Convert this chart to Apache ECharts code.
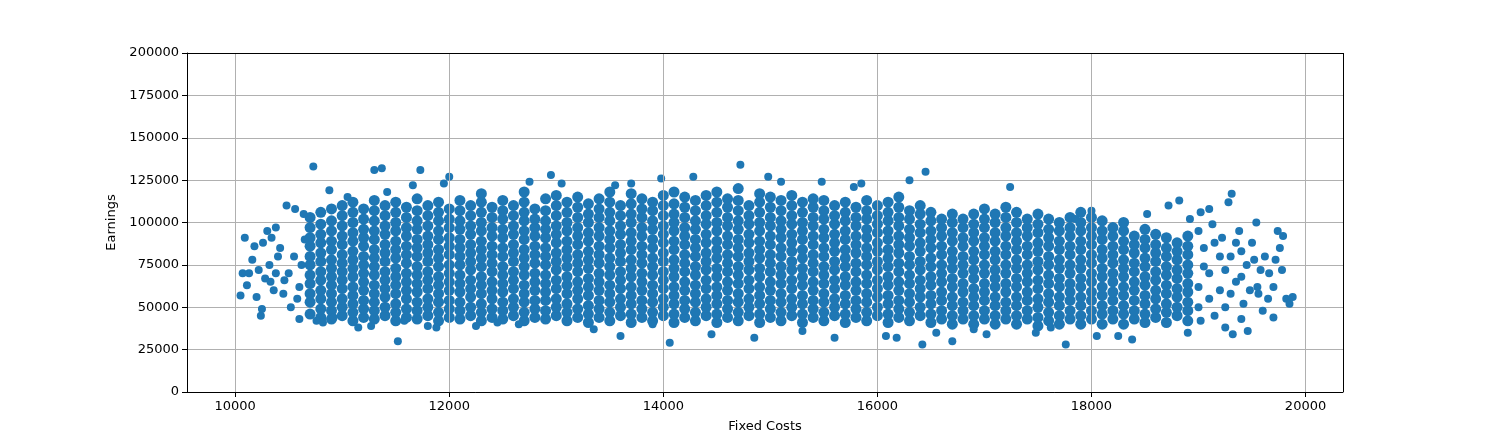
<!DOCTYPE html>
<html>
<head>
<meta charset="utf-8">
<script src="https://cdn.jsdelivr.net/npm/echarts@6/dist/echarts.min.js"></script>
<style>html,body{margin:0;background:#fff}#chart{width:1493px;height:441px}</style>
</head>
<body>
<div id="chart"></div>
<script>
// 密集区：每一列的固定成本 (x) 与该列读出的收益 (千)
const colX = [10700,10800,10900,11000,11100,11200,11300,11400,11500,11600,11700,11800,11900,12000,12100,12200,12300,12400,12500,12600,12700,12800,12900,13000,13100,13200,13300,13400,13500,13600,13700,13800,13900,14000,14100,14200,14300,14400,14500,14600,14700,14800,14900,15000,15100,15200,15300,15400,15500,15600,15700,15800,15900,16000,16100,16200,16300,16400,16500,16600,16700,16800,16900,17000,17100,17200,17300,17400,17500,17600,17700,17800,17900,18000,18100,18200,18300,18400,18500,18600,18700,18800,18900]
const colY = [
  [46,53,58,64,69,75,80,86,91,97,103],
  [44,49,55,60,66,71,77,82,88,93,99,106],
  [43,48,53,58,63,68,73,78,84,89,95,101,108],
  [45,50,55,61,66,71,76,81,87,92,98,104,110],
  [42,47,52,57,62,68,73,78,83,89,94,100,106,112],
  [44,49,54,60,65,70,75,80,86,91,96,102,108],
  [43,48,53,58,63,69,74,79,84,90,95,101,107,113],
  [45,50,56,61,66,71,77,82,87,93,98,104,110],
  [42,47,52,58,63,68,73,79,84,89,95,100,106,112],
  [44,49,55,60,65,70,76,81,86,92,97,103,109],
  [43,48,53,59,64,69,74,80,85,90,96,101,107,114],
  [45,50,55,61,66,71,77,82,87,92,98,104,110],
  [42,47,53,58,63,68,74,79,84,90,95,101,106,112],
  [44,49,54,60,65,70,75,81,86,91,97,102,108],
  [43,48,53,59,64,69,75,80,85,90,96,101,107,113],
  [45,50,56,61,66,72,77,82,87,93,98,104,110],
  [42,47,52,58,63,68,74,79,84,89,95,100,106,112,117],
  [44,49,55,60,65,71,76,81,86,92,97,103,109],
  [43,48,53,59,64,69,74,80,85,91,96,102,107,113],
  [45,50,55,61,66,71,77,82,87,93,98,104,110],
  [42,47,53,58,63,69,74,79,84,90,95,101,106,112,118],
  [44,49,54,60,65,70,76,81,86,92,97,102,108],
  [43,48,54,59,64,69,75,80,85,91,96,101,107,114],
  [45,50,55,61,66,72,77,82,88,93,98,104,110,116],
  [42,47,52,58,63,68,74,79,84,89,95,100,106,112],
  [44,49,55,60,65,71,76,81,87,92,97,103,109,115],
  [41,46,51,57,62,67,73,78,83,89,94,100,105,111],
  [44,49,54,60,65,70,76,81,86,92,97,103,108,114],
  [42,47,53,58,63,69,74,79,85,90,95,101,106,112,118],
  [45,50,55,61,66,71,77,82,87,93,98,104,110],
  [41,46,52,57,62,68,73,78,84,89,94,100,105,111,117],
  [44,49,54,60,65,70,76,81,86,92,97,103,108,114],
  [42,47,53,58,63,69,74,79,85,90,96,101,107,112],
  [45,50,55,61,66,71,77,82,88,93,98,104,110,116],
  [41,46,52,57,62,68,73,78,84,89,95,100,105,111,118],
  [44,49,54,60,65,71,76,81,87,92,97,103,109,115],
  [42,47,53,58,63,69,74,80,85,90,96,101,107,113],
  [45,50,55,61,66,72,77,82,88,93,99,104,110,116],
  [41,46,52,57,62,68,73,79,84,89,95,100,106,112,118],
  [44,49,54,60,65,71,76,81,87,92,98,103,109,114],
  [42,47,53,58,64,69,74,80,85,90,96,101,107,113,120],
  [45,50,55,61,66,72,77,82,88,93,99,104,110],
  [41,46,52,57,62,68,73,79,84,89,95,100,106,112,117],
  [44,49,54,60,65,71,76,81,87,92,98,103,109,115],
  [42,47,53,58,64,69,74,80,85,91,96,101,107,113],
  [45,50,55,61,66,72,77,83,88,93,99,104,110,116],
  [41,46,52,57,63,68,73,79,84,90,95,100,106,112],
  [44,49,54,60,65,71,76,81,87,92,98,103,109,114],
  [42,47,53,58,64,69,74,80,85,91,96,102,107,113],
  [45,50,55,61,66,72,77,83,88,93,99,104,110],
  [41,46,52,57,63,68,74,79,84,90,95,101,106,112],
  [44,49,54,60,65,71,76,82,87,92,98,103,109],
  [42,47,53,58,64,69,75,80,85,91,96,102,107,113],
  [45,50,56,61,66,72,77,83,88,94,99,104,110],
  [41,46,52,57,63,68,74,79,84,90,95,101,106,112],
  [44,49,54,60,65,71,76,82,87,92,98,103,109,115],
  [42,47,53,58,64,69,75,80,86,91,96,102,107],
  [45,50,56,61,66,72,77,83,88,94,99,105,110],
  [41,46,52,57,63,68,74,79,85,90,95,101,106],
  [43,48,54,59,65,70,75,81,86,92,97,102],
  [40,45,51,56,62,67,73,78,83,89,94,100,105],
  [43,48,53,59,64,70,75,80,86,91,97,102],
  [40,45,51,56,61,67,72,78,83,89,94,99,105],
  [43,48,54,59,64,70,75,81,86,91,97,102,108],
  [40,45,51,56,62,67,72,78,83,89,94,100,105],
  [43,48,53,59,64,70,75,81,86,92,97,103,109],
  [40,45,51,56,62,67,73,78,84,89,94,100,106],
  [43,48,54,59,65,70,75,81,86,92,97,102],
  [39,44,50,55,61,66,72,77,83,88,94,99,105],
  [42,47,53,58,64,69,75,80,86,91,96,102],
  [40,45,51,56,62,67,73,78,84,89,95,100],
  [43,48,54,59,64,70,75,81,86,92,97,103],
  [40,45,51,56,62,67,73,78,84,89,95,100,106],
  [43,48,54,59,65,70,76,81,87,92,97,103],
  [40,46,51,57,62,68,73,79,84,90,95,101],
  [43,48,54,59,65,70,76,81,86,92,97],
  [40,46,51,57,62,68,73,78,84,89,95,100],
  [43,48,54,60,65,71,76,82,87,92],
  [41,46,52,57,63,68,74,79,85,90,96],
  [44,49,55,60,66,71,77,82,87,93],
  [41,47,52,58,63,69,74,80,85,91],
  [45,50,56,61,67,72,78,83,88],
  [42,48,53,59,64,70,75,81,86,92]
]
// 零散点 [固定成本, 收益(千)]
const extraPts = [
  [10050,57],[10070,70],[10090,91],[10110,63],[10130,70],[10160,78],[10180,86],[10200,56],[10220,72],[10240,45],
  [10250,49],[10260,88],[10280,67],[10300,95],[10320,75],[10340,91],[10360,60],[10380,97],[10400,80],[10420,85],
  [10450,58],[10480,110],[10520,50],[10560,108],[10600,43],[10640,105],[10500,70],[10550,80],[10600,62],[10650,90],
  [10460,66],[10580,55],[10620,75],[10380,70],[10330,65],[10730,133],[10760,42],[10820,41],[10880,119],[10920,44],
  [11050,115],[11150,38],[11270,39],[11300,131],[11370,132],[11420,118],[11520,30],[11580,42],[11660,122],[11730,131],
  [11800,39],[11880,38],[11950,123],[12000,127],[12100,43],[12250,39],[12450,41],[12650,40],[12750,124],[12950,128],
  [13050,123],[13350,37],[13550,122],[13600,33],[13700,123],[13900,40],[13980,126],[14060,29],[14280,127],[14450,34],
  [14720,134],[14850,32],[14980,127],[15100,124],[15300,36],[15480,124],[15600,32],[15780,121],[15850,123],[16080,33],
  [16180,32],[16300,125],[16420,28],[16450,130],[16550,35],[16700,30],[16900,37],[17020,34],[17240,121],[17480,35],
  [17620,38],[17760,28],[17850,102],[18000,107],[18050,33],[18250,33],[18380,31],[18520,105],[18720,110],[18820,113],
  [18900,35],[18920,102],[19020,106],[19100,108],[19220,91],[19250,38],[19280,112],[19310,117],[19320,34],[19380,95],
  [19400,43],[19460,36],[19500,88],[19540,100],[19560,58],[19600,48],[19620,80],[19660,70],[19700,44],[19720,78],
  [19740,95],[19760,85],[19780,72],[19790,92],[19820,55],[19850,52],[19880,56],[19300,80],[19200,60],[19100,70],
  [19000,50],[19150,45],[19350,65],[19450,75],[19050,85],[19550,62],[19650,55],[19420,52],[19250,72],[19000,95],
  [19000,62],[19050,74],[19100,55],[19150,88],[19200,80],[19250,50],[19300,58],[19350,88],[19400,68],[19480,60],
  [19520,78],[19580,72],[19020,42],[19130,99],[19400,83],[19700,62]
]
const xTicks = [10000,12000,14000,16000,18000,20000]

const corePts = []
colX.forEach((x, i) => {
  colY[i].forEach(y => corePts.push([x, y * 1000]))
})
const loosePts = extraPts.map(p => [p[0], p[1] * 1000])

const chart = echarts.init(document.getElementById('chart'))
const axisFont = { color: '#000', fontSize: 13, fontFamily: 'DejaVu Sans' }
const plainNum = v => String(v)
chart.setOption({
  animation: false,
  grid: { left: 187, right: 150, top: 53, bottom: 49 },
  xAxis: {
    type: 'value', min: 9550, max: 20350,
    name: 'Fixed Costs', nameLocation: 'middle', nameGap: 28,
    nameTextStyle: axisFont,
    axisLine: { onZero: false, lineStyle: { color: '#000' } },
    axisTick: { customValues: xTicks, lineStyle: { color: '#000' } },
    axisLabel: Object.assign({ customValues: xTicks, formatter: plainNum }, axisFont),
    splitLine: { show: false }
  },
  yAxis: {
    type: 'value', min: 0, max: 200000, interval: 25000,
    name: 'Earnings', nameLocation: 'middle', nameGap: 62,
    nameTextStyle: axisFont,
    axisLine: { show: true, lineStyle: { color: '#000' } },
    axisTick: { show: true, lineStyle: { color: '#000' } },
    axisLabel: Object.assign({ formatter: plainNum }, axisFont),
    splitLine: { lineStyle: { color: '#b0b0b0', width: 1 } }
  },
  series: [{
    type: 'scatter',
    data: corePts,
    symbolSize: 11,
    itemStyle: { color: '#1f77b4', opacity: 1 },
    markLine: {
      silent: true, symbol: 'none', label: { show: false },
      lineStyle: { color: '#b0b0b0', type: 'solid', width: 1 },
      data: xTicks.map(v => ({ xAxis: v }))
    }
  }, {
    type: 'scatter',
    data: loosePts,
    symbolSize: 8,
    itemStyle: { color: '#1f77b4', opacity: 1 }
  }, {
    // 顶部与右侧边框
    type: 'line', data: [], markLine: {
      silent: true, symbol: 'none', label: { show: false },
      lineStyle: { color: '#000', type: 'solid', width: 1 },
      data: [{ yAxis: 200000 }, { xAxis: 20350 }]
    }
  }]
})
</script>
</body>
</html>
